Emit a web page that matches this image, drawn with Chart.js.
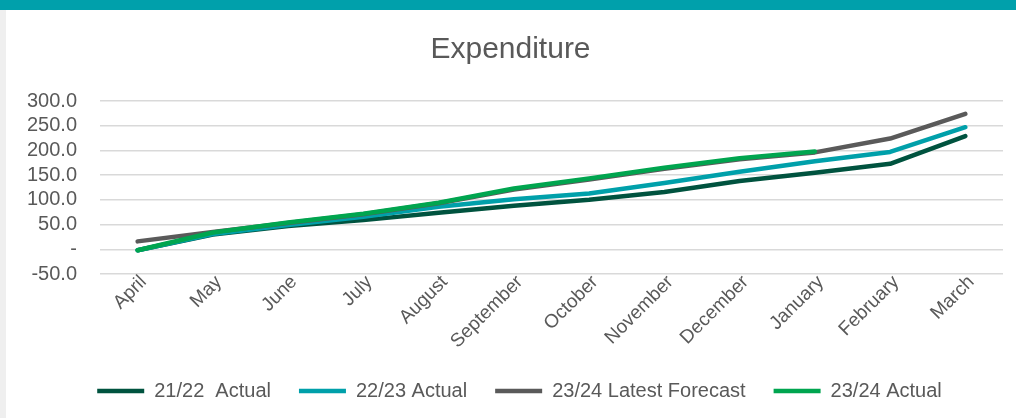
<!DOCTYPE html>
<html>
<head>
<meta charset="utf-8">
<script src="https://cdn.jsdelivr.net/npm/chart.js@4"></script>
<style>
  html, body { margin: 0; padding: 0; background: #fff; }
  body { width: 1016px; height: 418px; position: relative; overflow: hidden; }
  #bar { position: absolute; left: 0; top: 0; width: 1016px; height: 10px; background: #00a0ab; }
  #strip { position: absolute; left: 0; top: 10px; width: 6px; height: 408px; background: #efefef; }
  #chart { position: absolute; left: 0; top: 0; }
</style>
</head>
<body>
<div id="bar"></div>
<div id="strip"></div>
<canvas id="chart" width="1016" height="411"></canvas>
<script>
const months = ['April', 'May', 'June', 'July', 'August', 'September', 'October',
  'November', 'December', 'January', 'February', 'March']

const actual2122 = [-2, 30, 47, 59, 74, 88, 100, 116, 138, 155, 173, 229]
const actual2223 = [-2, 31, 49, 66, 86, 101, 113, 134, 157, 178, 197, 247]
const forecast2324 = [16, 35, 53, 71, 93, 121, 141, 163, 182, 196, 224, 274]
const actual2324 = [-2, 34, 54, 72, 94, 123, 143, 165, 184, 198, null, null]

const grey = '#595959'
const font = 'Arial, "Liberation Sans", sans-serif'

function line(label, data, color, order) {
  return {
    label: label,
    data: data,
    borderColor: color,
    backgroundColor: color,
    borderWidth: 4.5,
    borderCapStyle: 'round',
    borderJoinStyle: 'round',
    pointRadius: 0,
    tension: 0,
    order: order
  }
}

// nudge title and legend a bit right, like the original layout
const nudge = {
  id: 'nudge',
  afterLayout(chart) {
    chart.legend.left += 18
    chart.legend.right += 18
    chart.titleBlock.left += 9
    chart.titleBlock.right += 9
  }
}

const ctx = document.getElementById('chart').getContext('2d')
const chart = new Chart(ctx, {
  type: 'line',
  data: {
    labels: months,
    datasets: [
      line('21/22  Actual', actual2122, '#00533f', 3),
      line('22/23 Actual', actual2223, '#00a0aa', 2),
      line('23/24 Latest Forecast', forecast2324, '#5a5a5a', 1),
      line('23/24 Actual', actual2324, '#00a54f', 0)
    ]
  },
  plugins: [nudge],
  options: {
    responsive: false,
    animation: false,
    devicePixelRatio: 1,
    layout: { padding: { left: 0, right: 13, top: 0, bottom: 0 } },
    plugins: {
      tooltip: { enabled: false },
      title: {
        display: true,
        text: 'Expenditure',
        color: grey,
        font: { family: font, size: 30, weight: 'normal' },
        padding: { top: 32, bottom: 33 }
      },
      legend: {
        position: 'bottom',
        labels: {
          color: grey,
          font: { family: font, size: 20 },
          usePointStyle: true,
          pointStyle: 'line',
          pointStyleWidth: 47,
          padding: 28,
          sort: (a, b) => a.datasetIndex - b.datasetIndex
        }
      }
    },
    scales: {
      x: {
        offset: true,
        grid: { display: false, drawTicks: false },
        border: { display: false },
        ticks: {
          color: grey,
          font: { family: font, size: 19 },
          minRotation: 45,
          maxRotation: 45,
          autoSkip: false,
          padding: -3,
          labelOffset: 6
        },
        afterFit: s => { s.height = 79 }
      },
      y: {
        min: -50,
        max: 300,
        grid: { color: '#d9d9d9', lineWidth: 1.5, drawTicks: false },
        border: { display: false },
        ticks: {
          stepSize: 50,
          autoSkip: false,
          color: grey,
          font: { family: font, size: 20 },
          padding: 23,
          callback: v => v === 0 ? '-' : v.toFixed(1)
        },
        afterFit: s => { s.width = 100 }
      }
    }
  }
})
</script>
</body>
</html>
